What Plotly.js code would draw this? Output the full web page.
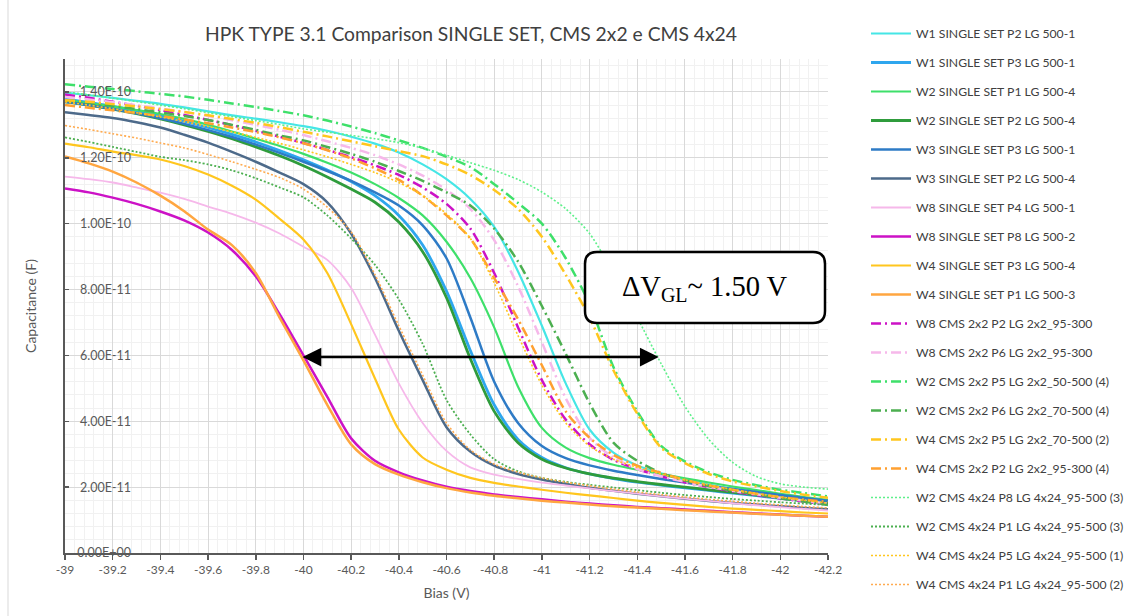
<!DOCTYPE html>
<html><head><meta charset="utf-8">
<script src="https://cdn.plot.ly/plotly-3.0.1.min.js"></script>
<style>html,body{margin:0;padding:0;background:#fff}#chart{width:1136px;height:616px}</style>
</head><body><div id="chart"></div>
<script>
// Bias (V)
const biasV = [-39.0,-39.1,-39.2,-39.3,-39.4,-39.5,-39.6,-39.7,-39.8,-39.9,-40.0,-40.1,-40.2,-40.3,-40.4,-40.5,-40.6,-40.7,-40.8,-40.9,-41.0,-41.1,-41.2,-41.3,-41.4,-41.5,-41.6,-41.7,-41.8,-41.9,-42.0,-42.1,-42.2];

// Capacitance values in pF (converted to F when plotted)
const w1ssP2 = [139.8,139.0,138.2,137.3,136.4,135.3,134.1,132.9,131.9,130.8,129.6,128.2,126.4,124.3,121.6,118.0,113.5,107.5,99.0,85.5,69.0,51.5,37.5,30.5,26.6,24.2,22.3,20.8,19.5,18.3,17.3,16.3,15.4];
const w1ssP3 = [137.8,136.8,135.6,134.3,132.8,131.1,129.2,127.1,124.8,122.2,119.4,116.3,112.8,108.5,102.5,93.5,79.5,61.5,45.0,34.5,29.0,25.9,24.0,22.6,21.5,20.6,19.8,19.0,18.2,17.4,16.6,15.8,15.0];
const w2ssP1 = [137.5,136.6,135.6,134.5,133.3,131.8,130.0,128.0,125.8,123.6,121.2,118.5,115.5,112.0,107.8,102.5,94.5,83.5,68.5,50.5,38.0,32.0,28.8,26.8,25.3,24.0,22.7,21.4,20.2,19.1,18.0,17.0,16.1];
const w2ssP2 = [137.0,136.0,134.8,133.4,131.8,130.0,128.0,125.8,123.3,120.6,117.6,114.2,110.5,106.5,100.5,91.5,77.5,59.0,43.0,33.5,28.5,25.8,24.0,22.7,21.7,20.8,20.0,19.2,18.4,17.6,16.8,16.0,15.2];
const w3ssP3 = [137.0,136.0,134.8,133.5,132.0,130.3,128.4,126.3,124.0,121.5,118.8,116.0,113.0,109.5,105.5,99.5,89.5,71.5,52.0,39.5,32.5,28.8,26.6,25.0,23.7,22.5,21.4,20.4,19.4,18.5,17.6,16.7,15.9];
const w3ssP2 = [133.8,133.0,132.1,130.8,129.2,127.0,124.6,121.8,118.8,115.5,112.0,106.5,97.0,83.5,67.5,52.5,38.2,30.8,26.5,24.0,22.3,21.0,19.8,18.9,18.0,17.2,16.5,15.8,15.2,14.7,14.2,13.7,13.3];
const w8ssP4 = [114.3,113.5,112.5,111.0,109.4,107.5,105.2,103.0,100.3,97.0,93.0,89.0,80.5,66.3,51.5,39.5,31.0,26.0,23.8,22.5,21.4,20.5,19.6,18.8,18.0,17.2,16.5,15.8,15.1,14.5,13.9,13.4,12.9];
const w8ssP8 = [110.7,109.5,107.9,106.0,103.7,101.0,97.3,92.0,84.0,72.5,60.0,47.4,34.8,28.0,24.5,22.0,20.1,18.8,17.8,17.0,16.3,15.6,15.0,14.5,14.0,13.6,13.2,12.8,12.4,12.0,11.7,11.3,11.0];
const w4ssP3 = [124.3,123.2,121.9,120.8,119.5,117.5,114.9,111.5,107.3,101.5,95.2,85.0,69.5,53.0,37.5,29.0,25.3,22.8,21.3,20.2,19.2,18.3,17.5,16.7,15.9,15.2,14.6,14.0,13.5,13.1,12.7,12.3,12.0];
const w4ssP1 = [120.4,118.3,115.8,112.5,108.5,103.8,98.2,93.5,85.0,71.5,58.5,45.0,33.0,27.0,23.8,21.5,19.7,18.4,17.4,16.6,15.9,15.3,14.7,14.2,13.8,13.4,13.0,12.6,12.3,11.9,11.6,11.3,11.0];
const w8cms2x2P2 = [139.2,138.2,137.0,135.8,134.5,133.0,131.5,129.9,128.2,126.4,124.5,122.4,120.2,117.7,114.8,111.0,106.0,98.5,85.0,68.5,52.5,40.5,33.0,28.3,25.5,23.3,21.5,20.0,18.7,17.6,16.6,15.6,14.8];
const w8cms2x2P6 = [138.5,137.7,136.9,136.0,135.0,133.9,132.7,131.4,130.0,128.5,126.9,125.0,123.0,120.8,118.0,114.6,110.3,104.5,95.0,81.0,64.0,47.0,35.0,29.0,25.5,23.3,21.6,20.1,18.9,17.8,16.8,15.9,15.0];
const w2cms2x2P5 = [142.3,141.6,140.9,140.2,139.4,138.6,137.6,136.5,135.4,134.2,132.9,131.3,129.5,127.5,125.3,123.0,120.3,117.2,112.0,106.3,100.0,89.5,75.5,56.5,43.0,32.5,27.8,24.5,22.2,20.6,19.2,18.2,17.2];
const w2cms2x2P6 = [137.5,136.7,135.8,134.8,133.8,132.7,131.5,130.0,128.5,126.8,125.3,123.3,121.2,118.8,116.0,113.0,109.5,105.5,98.5,88.5,75.0,60.5,45.5,33.5,28.0,24.3,22.0,20.3,18.9,17.8,16.6,15.6,14.6];
const w4cms2x2P5 = [137.5,137.0,136.3,135.6,134.8,133.9,132.9,131.8,130.6,129.3,127.9,126.5,125.0,123.5,122.0,120.5,118.0,114.8,110.2,104.5,96.0,84.5,71.5,55.5,42.3,32.0,27.3,24.0,21.7,20.2,18.8,17.7,16.8];
const w4cms2x2P2 = [136.0,135.2,134.4,133.6,132.7,131.6,130.5,129.2,127.8,126.2,124.4,122.3,119.8,116.8,113.3,108.5,102.5,95.5,83.5,71.0,57.0,43.0,35.0,29.8,26.5,24.3,22.2,20.5,19.2,18.0,17.0,16.2,15.5];
const w2cms4x24P8 = [140.0,139.1,138.1,137.1,136.0,134.9,133.7,132.5,131.3,130.1,128.8,127.8,126.8,125.8,124.6,122.9,120.8,118.5,116.2,113.4,109.6,104.5,97.0,85.0,71.5,57.5,44.5,34.5,27.5,23.2,21.0,20.0,19.4];
const w2cms4x24P1 = [126.2,124.8,123.3,121.8,120.3,119.3,118.0,116.2,113.8,111.0,108.0,102.5,95.5,87.5,77.0,63.5,46.5,36.0,28.5,24.8,22.8,21.6,20.7,19.9,19.1,18.3,17.6,17.0,16.4,15.9,15.4,15.0,14.6];
const w4cms4x24P5 = [137.0,136.0,134.9,133.7,132.4,131.0,129.5,127.9,126.2,124.4,122.4,120.3,118.0,115.5,112.5,108.5,103.0,95.5,82.0,66.0,51.0,39.5,32.5,28.5,26.0,24.0,22.2,20.7,19.3,18.1,17.0,16.0,15.1];
const w4cms4x24P1 = [129.8,128.6,127.3,126.0,124.5,123.0,121.0,118.8,116.5,114.0,110.5,105.0,97.5,84.5,69.0,54.0,39.5,31.3,27.0,24.5,22.8,21.5,20.4,19.4,18.5,17.7,17.0,16.3,15.7,15.1,14.6,14.1,13.7];

const seriesNames = [
  "W1 SINGLE SET P2 LG 500-1","W1 SINGLE SET P3 LG 500-1","W2 SINGLE SET P1 LG 500-4","W2 SINGLE SET P2 LG 500-4",
  "W3 SINGLE SET P3 LG 500-1","W3 SINGLE SET P2 LG 500-4","W8 SINGLE SET P4 LG 500-1","W8 SINGLE SET P8 LG 500-2",
  "W4 SINGLE SET P3 LG 500-4","W4 SINGLE SET P1 LG 500-3",
  "W8 CMS 2x2 P2 LG 2x2_95-300","W8 CMS 2x2 P6 LG 2x2_95-300","W2 CMS 2x2 P5 LG 2x2_50-500 (4)","W2 CMS 2x2 P6 LG 2x2_70-500 (4)",
  "W4 CMS 2x2 P5 LG 2x2_70-500 (2)","W4 CMS 2x2 P2 LG 2x2_95-300 (4)",
  "W2 CMS 4x24 P8 LG 4x24_95-500 (3)","W2 CMS 4x24 P1 LG 4x24_95-500 (3)","W4 CMS 4x24 P5 LG 4x24_95-500 (1)","W4 CMS 4x24 P1 LG 4x24_95-500 (2)"
];
const seriesValues = [w1ssP2,w1ssP3,w2ssP1,w2ssP2,w3ssP3,w3ssP2,w8ssP4,w8ssP8,w4ssP3,w4ssP1,
  w8cms2x2P2,w8cms2x2P6,w2cms2x2P5,w2cms2x2P6,w4cms2x2P5,w4cms2x2P2,
  w2cms4x24P8,w2cms4x24P1,w4cms4x24P5,w4cms4x24P1];

const xTickVals = [-39,-39.2,-39.4,-39.6,-39.8,-40,-40.2,-40.4,-40.6,-40.8,-41,-41.2,-41.4,-41.6,-41.8,-42,-42.2];
const xTickText = ["-39","-39.2","-39.4","-39.6","-39.8","-40","-40.2","-40.4","-40.6","-40.8","-41","-41.2","-41.4","-41.6","-41.8","-42","-42.2"];
const yTickVals = [0,2e-11,4e-11,6e-11,8e-11,1e-10,1.2e-10,1.4e-10];
const yTickText = ["0.00E+00","2.00E-11","4.00E-11","6.00E-11","8.00E-11","1.00E-10","1.20E-10","1.40E-10"];

// styles
const DD = "10px,4px,2px,4px";
const DT = "2px,2px";
const styles = [
  {c:"#45e6e6",w:2.2,d:"solid"},
  {c:"#2ea6ee",w:2.8,d:"solid"},
  {c:"#3ee06a",w:2.2,d:"solid"},
  {c:"#2f9c3c",w:2.8,d:"solid"},
  {c:"#2e7bc6",w:2.5,d:"solid"},
  {c:"#4d6a8a",w:2.5,d:"solid"},
  {c:"#f6b8ea",w:1.8,d:"solid"},
  {c:"#cc12c6",w:2.5,d:"solid"},
  {c:"#ffc61e",w:2.2,d:"solid"},
  {c:"#ffa640",w:2.5,d:"solid"},
  {c:"#cc12c6",w:2.5,d:DD},
  {c:"#f6b8ea",w:2.5,d:DD},
  {c:"#3ee06a",w:2.5,d:DD},
  {c:"#4caf50",w:2.5,d:DD},
  {c:"#ffc61e",w:2.5,d:DD},
  {c:"#ffa030",w:2.5,d:DD},
  {c:"#5ef08a",w:1.6,d:DT},
  {c:"#4caf50",w:1.8,d:DT},
  {c:"#ffc61e",w:1.6,d:DT},
  {c:"#ffab50",w:1.6,d:DT}
];

const lastIdx = seriesValues.length - 1;
const traces = seriesValues.map((vals, i) => ({
  x: biasV,
  y: vals.map(v => v * 1e-12),
  yaxis: i === lastIdx ? "y2" : "y",
  name: seriesNames[i],
  legendgroup: "g" + i,
  type: "scatter",
  mode: "lines",
  line: {color: styles[i].c, width: styles[i].w, dash: styles[i].d, shape: "spline", smoothing: 0.8},
  hoverinfo: "skip"
}));

// plot area in pixels: left 65, right 828, top 59, bottom 553
const L = 65, R = 828, T = 59, B = 553, W = 1136, H = 616;
const px = v => (v - L) / (R - L);
const py = v => (B - v) / (B - T);
function roundRect(x0p, y0p, x1p, y1p, r) {
  const a = px(x0p), b = px(x1p), top = py(y0p), bot = py(y1p);
  const rx = r / (R - L), ry = r / (B - T);
  return `M ${a+rx},${top} L ${b-rx},${top} Q ${b},${top} ${b},${top-ry} L ${b},${bot+ry} Q ${b},${bot} ${b-rx},${bot} L ${a+rx},${bot} Q ${a},${bot} ${a},${bot+ry} L ${a},${top-ry} Q ${a},${top} ${a+rx},${top} Z`;
}

const FONT = "Lato, 'Open Sans', sans-serif";
const yRange = [0, 1.5e-10];
const layout = {
  width: W, height: H,
  margin: {l: L, r: W - R, t: T, b: H - B},
  paper_bgcolor: "#ffffff", plot_bgcolor: "#ffffff",
  font: {family: FONT, color: "#595959"},
  title: {text: "HPK TYPE 3.1 Comparison SINGLE SET, CMS 2x2 e CMS 4x24", xref: "paper", x: px(471), xanchor: "center",
          yref: "container", y: 1 - 34 / H, yanchor: "middle", font: {family: FONT, size: 19.3, color: "#404040"}},
  showlegend: true,
  legend: {xref: "container", yref: "container", x: 866 / W, xanchor: "left", y: 1 - 19 / H, yanchor: "top",
           traceorder: "grouped", tracegroupgap: 10,
           maxheight: 1, itemwidth: 40, font: {family: FONT, size: 12.2, color: "#404040"}, bgcolor: "rgba(0,0,0,0)"},
  xaxis: {
    range: [-39, -42.2], tickmode: "array", tickvals: xTickVals, ticktext: xTickText,
    showgrid: true, gridcolor: "#d9d9d9", gridwidth: 1, zeroline: false,
    showline: true, linecolor: "#595959", linewidth: 2,
    ticks: "outside", ticklen: 5, tickcolor: "#595959", tickwidth: 1.5,
    tickfont: {family: FONT, size: 12, color: "#595959"},
    minor: {tickmode: "linear", tick0: -39, dtick: 0.04, showgrid: true, gridcolor: "#f1f1f1", gridwidth: 1, ticks: ""},
    title: {text: "Bias (V)", font: {family: FONT, size: 14, color: "#595959"}, standoff: 12}
  },
  yaxis: {
    range: yRange, tickmode: "array", tickvals: yTickVals, showticklabels: false,
    showgrid: true, gridcolor: "#d9d9d9", gridwidth: 1, zeroline: false,
    showline: true, linecolor: "#595959", linewidth: 2.5,
    ticks: "inside", ticklen: 4, tickcolor: "#595959", tickwidth: 1.5,
    minor: {tickmode: "linear", tick0: 0, dtick: 4e-12, showgrid: true, gridcolor: "#f1f1f1", gridwidth: 1, ticks: ""},
    title: {text: "Capacitance (F)", font: {family: FONT, size: 14, color: "#595959"}, standoff: 23}
  },
  yaxis2: {
    overlaying: "y", anchor: "free", position: px(131), side: "left",
    range: yRange, tickmode: "array", tickvals: yTickVals, ticktext: yTickText,
    showgrid: false, zeroline: false, showline: false, ticks: "",
    tickfont: {family: FONT, size: 12.5, color: "#595959"}
  },
  shapes: [
    {type: "line", xref: "paper", yref: "paper", x0: px(8), x1: px(8), y0: py(0), y1: py(H), line: {color: "#d9d9d9", width: 1}},
    {type: "path", xref: "paper", yref: "paper", path: roundRect(585, 252, 825, 323, 12),
     fillcolor: "#ffffff", line: {color: "#000000", width: 2.5}, layer: "above"}
  ],
  annotations: [
    {xref: "x", yref: "y", x: -41.49, y: 5.95e-11, axref: "x", ayref: "y", ax: -39.99, ay: 5.95e-11,
     text: "", showarrow: true, arrowhead: 2, startarrowhead: 2, arrowside: "end+start",
     arrowwidth: 2.5, arrowsize: 1.5, startarrowsize: 1.5, arrowcolor: "#000000", standoff: 0, startstandoff: 0},
    {xref: "paper", yref: "paper", x: px(705), y: py(288), xanchor: "center", yanchor: "middle", showarrow: false,
     text: "ΔV<sub>GL</sub>~ 1.50 V", font: {family: "'Liberation Serif', 'DejaVu Serif', serif", size: 28.5, color: "#000000"}}
  ]
};

Plotly.newPlot("chart", traces, layout, {displayModeBar: false, staticPlot: true});
</script>
</body></html>
